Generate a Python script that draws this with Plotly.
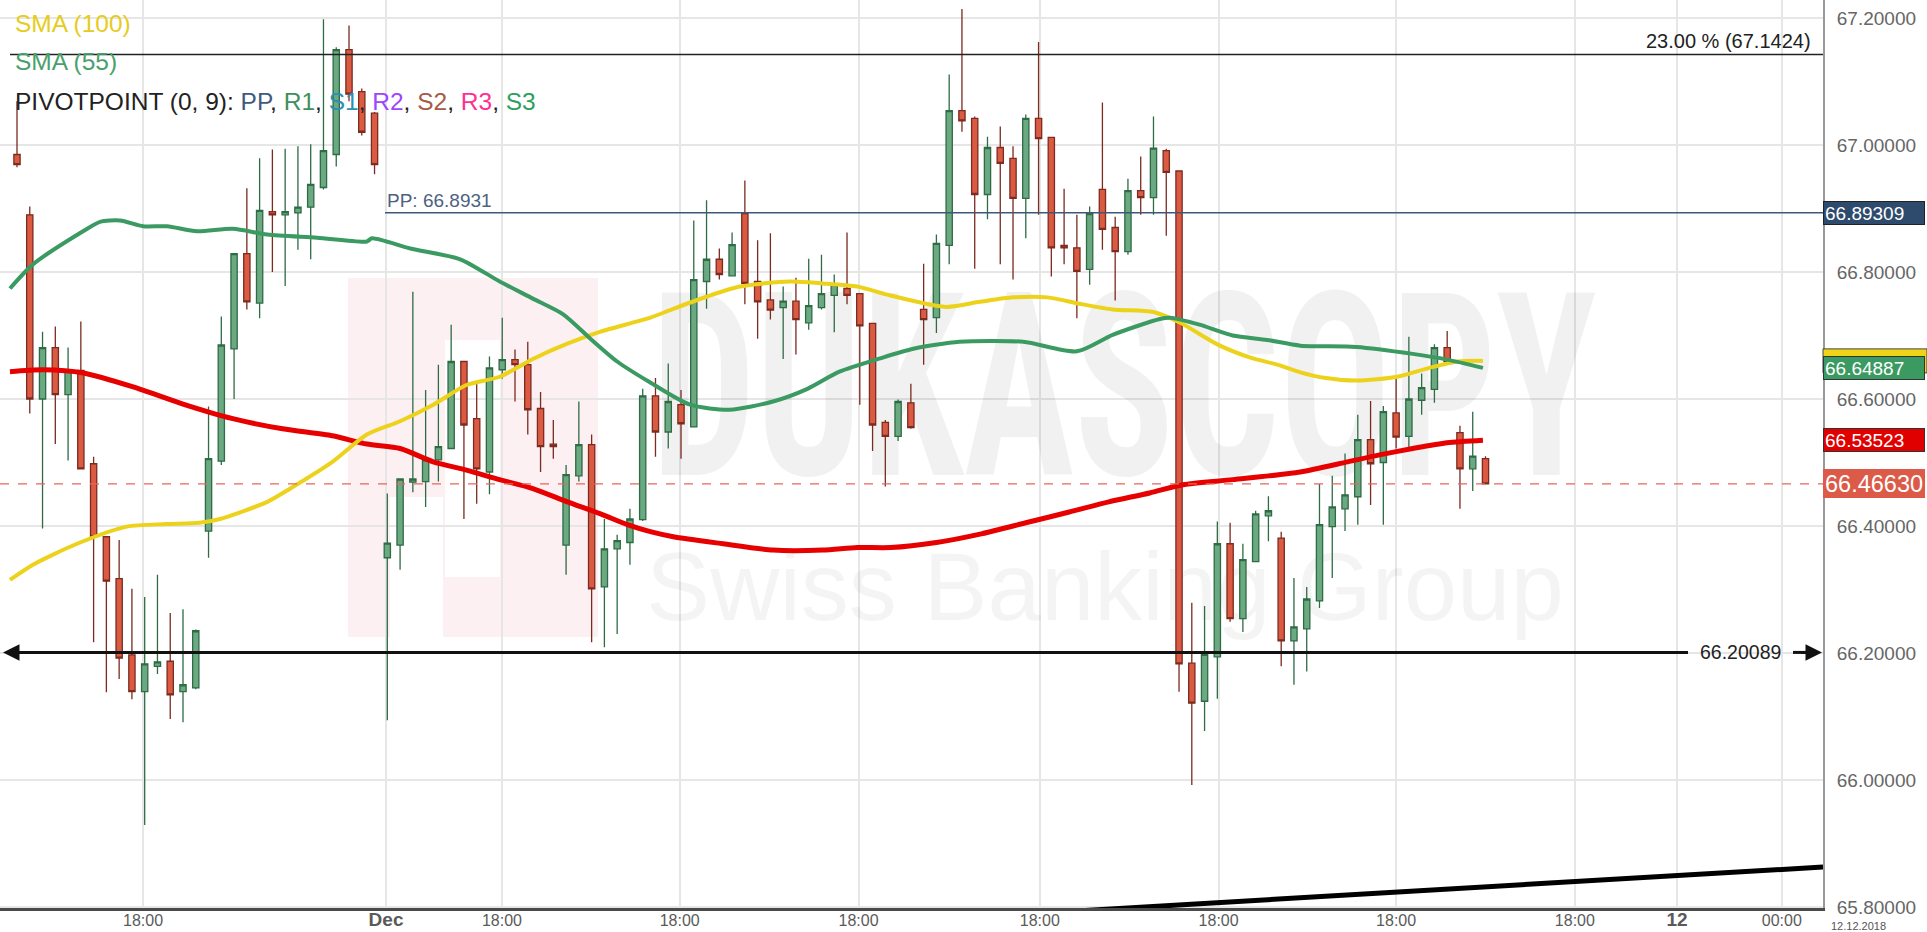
import plotly.graph_objects as go

# ---------------- data ----------------
idx = list(range(116))
opens = [66.985, 66.890, 66.600, 66.681, 66.607, 66.645, 66.498, 66.383, 66.317, 66.197,
         66.139, 66.179, 66.187, 66.139, 66.145, 66.392, 66.502, 66.679, 66.829, 66.751,
         66.895, 66.890, 66.893, 66.902, 66.933, 66.985, 67.150, 67.084, 67.050, 66.350,
         66.370, 66.469, 66.470, 66.504, 66.522, 66.659, 66.569, 66.485, 66.646, 66.662,
         66.654, 66.585, 66.529, 66.370, 66.479, 66.528, 66.304, 66.364, 66.374, 66.410,
         66.605, 66.548, 66.591, 66.556, 66.785, 66.820, 66.794, 66.892, 66.785, 66.756,
         66.744, 66.754, 66.720, 66.744, 66.763, 66.774, 66.766, 66.719, 66.563, 66.541,
         66.594, 66.741, 66.728, 66.842, 67.054, 67.042, 66.922, 66.996, 66.979, 66.916,
         67.042, 67.012, 66.842, 66.838, 66.804, 66.930, 66.870, 66.832, 66.928, 66.917,
         66.991, 66.959, 66.184, 66.124, 66.194, 66.372, 66.254, 66.344, 66.416, 66.381,
         66.219, 66.238, 66.282, 66.399, 66.427, 66.446, 66.536, 66.500, 66.578, 66.541,
         66.598, 66.615, 66.681, 66.547, 66.490, 66.506]
highs = [67.069, 66.903, 66.706, 66.714, 66.681, 66.722, 66.509, 66.383, 66.378, 66.301,
         66.288, 66.323, 66.263, 66.269, 66.237, 66.588, 66.730, 66.829, 66.932, 66.979,
         66.993, 66.994, 66.998, 67.001, 67.198, 67.154, 67.188, 67.089, 67.052, 66.451,
         66.474, 66.769, 66.614, 66.654, 66.717, 66.659, 66.627, 66.667, 66.728, 66.678,
         66.690, 66.611, 66.567, 66.496, 66.596, 66.544, 66.411, 66.386, 66.427, 66.616,
         66.633, 66.656, 66.614, 66.881, 66.913, 66.837, 66.862, 66.944, 66.850, 66.861,
         66.777, 66.791, 66.821, 66.827, 66.796, 66.862, 66.766, 66.719, 66.567, 66.599,
         66.624, 66.813, 66.859, 67.111, 67.214, 67.045, 67.013, 67.029, 66.998, 67.048,
         67.162, 67.012, 66.931, 66.890, 66.903, 67.067, 66.887, 66.947, 66.982, 67.045,
         66.994, 66.959, 66.279, 66.274, 66.407, 66.405, 66.372, 66.424, 66.447, 66.391,
         66.318, 66.304, 66.466, 66.479, 66.514, 66.575, 66.597, 66.589, 66.632, 66.698,
         66.640, 66.686, 66.707, 66.558, 66.580, 66.510]
lows = [66.965, 66.577, 66.396, 66.529, 66.503, 66.490, 66.217, 66.138, 66.159, 66.127,
        65.929, 66.167, 66.096, 66.091, 66.143, 66.350, 66.496, 66.600, 66.741, 66.727,
        66.800, 66.778, 66.835, 66.820, 66.930, 66.966, 67.069, 67.015, 66.954, 66.094,
        66.331, 66.453, 66.430, 66.470, 66.522, 66.411, 66.435, 66.450, 66.632, 66.596,
        66.544, 66.485, 66.506, 66.323, 66.470, 66.217, 66.209, 66.230, 66.339, 66.408,
        66.509, 66.522, 66.506, 66.556, 66.742, 66.788, 66.794, 66.749, 66.695, 66.725,
        66.663, 66.670, 66.709, 66.741, 66.705, 66.749, 66.591, 66.518, 66.462, 66.534,
        66.553, 66.654, 66.704, 66.812, 67.021, 66.805, 66.883, 66.812, 66.788, 66.853,
        66.890, 66.793, 66.812, 66.727, 66.780, 66.835, 66.755, 66.827, 66.890, 66.890,
        66.857, 66.139, 65.992, 66.077, 66.128, 66.249, 66.233, 66.344, 66.376, 66.179,
        66.150, 66.171, 66.271, 66.318, 66.392, 66.402, 66.433, 66.402, 66.522, 66.523,
        66.575, 66.594, 66.659, 66.427, 66.455, 66.466]
closes = [66.969, 66.600, 66.681, 66.607, 66.645, 66.490, 66.383, 66.313, 66.192, 66.139,
          66.183, 66.186, 66.134, 66.150, 66.235, 66.506, 66.685, 66.829, 66.753, 66.897,
          66.890, 66.895, 66.902, 66.938, 66.991, 67.150, 67.080, 67.020, 66.969, 66.373,
          66.474, 66.474, 66.504, 66.525, 66.659, 66.559, 66.490, 66.649, 66.662, 66.654,
          66.583, 66.525, 66.525, 66.481, 66.528, 66.301, 66.364, 66.377, 66.411, 66.605,
          66.548, 66.596, 66.561, 66.788, 66.820, 66.796, 66.843, 66.782, 66.753, 66.740,
          66.754, 66.725, 66.747, 66.766, 66.780, 66.763, 66.715, 66.559, 66.541, 66.596,
          66.555, 66.725, 66.845, 67.054, 67.038, 66.922, 66.996, 66.971, 66.916, 67.042,
          67.010, 66.838, 66.838, 66.801, 66.892, 66.867, 66.832, 66.928, 66.917, 66.995,
          66.957, 66.183, 66.121, 66.198, 66.372, 66.254, 66.347, 66.419, 66.424, 66.219,
          66.241, 66.285, 66.402, 66.430, 66.449, 66.536, 66.498, 66.580, 66.540, 66.600,
          66.618, 66.681, 66.659, 66.490, 66.510, 66.4663]

sma55_x = [-0.55, 1.25, 5.17, 6.5, 8.07, 9.87, 11.75, 14.1, 16.9, 19.6, 23.5, 27.4, 27.8,
           30.8, 34.7, 37.8, 40.4, 42.8, 44.9, 47.0, 49.5, 52.7, 55.8, 59.2, 61.9, 64.4,
           67.6, 70.2, 73.8, 78.8, 83.0, 85.8, 89.5, 90.3, 92.6, 95.2, 97.9, 100.5, 104.9,
           109.3, 112.0, 114.8]
sma55_y = [66.774, 66.812, 66.864, 66.879, 66.881, 66.872, 66.872, 66.864, 66.868, 66.859,
           66.854, 66.848, 66.853, 66.837, 66.820, 66.785, 66.758, 66.733, 66.695, 66.659,
           66.627, 66.591, 66.583, 66.596, 66.616, 66.643, 66.664, 66.679, 66.690, 66.690,
           66.675, 66.701, 66.726, 66.728, 66.717, 66.700, 66.693, 66.684, 66.682, 66.671,
           66.662, 66.649]

sma100_x = [-0.55, 1.25, 4.7, 8.6, 11.7, 14.3, 15.9, 19.6, 21.4, 24.7, 27.4, 30.0, 32.6,
            35.2, 37.8, 40.4, 43.1, 45.7, 49.6, 51.4, 54.0, 56.6, 60.5, 63.1, 65.8, 68.4,
            72.8, 75.4, 78.0, 80.7, 83.2, 85.8, 89.0, 91.1, 94.0, 96.6, 98.7, 100.5, 102.5,
            104.9, 108.1, 110.6, 112.8, 114.8]
sma100_y = [66.315, 66.339, 66.372, 66.399, 66.403, 66.405, 66.411, 66.438, 66.459, 66.501,
            66.544, 66.565, 66.591, 66.622, 66.635, 66.663, 66.687, 66.706, 66.728, 66.742,
            66.761, 66.777, 66.785, 66.782, 66.777, 66.763, 66.745, 66.753, 66.760, 66.760,
            66.750, 66.741, 66.737, 66.720, 66.686, 66.665, 66.654, 66.642, 66.633, 66.629,
            66.635, 66.649, 66.659, 66.660]

sma200_x = [-0.55, 2.0, 5.2, 9.1, 13.0, 16.9, 20.8, 24.7, 27.4, 30.0, 32.6, 35.2, 37.8,
            40.4, 43.1, 45.7, 47.8, 49.6, 51.4, 55.3, 59.2, 63.1, 65.8, 68.4, 72.0, 75.6,
            79.0, 82.4, 85.5, 88.7, 91.3, 95.2, 100.5, 104.2, 106.7, 109.3, 112.0, 114.8]
sma200_y = [66.643, 66.646, 66.641, 66.619, 66.592, 66.569, 66.553, 66.542, 66.529, 66.522,
            66.501, 66.488, 66.473, 66.459, 66.438, 66.419, 66.402, 66.391, 66.383, 66.372,
            66.362, 66.362, 66.366, 66.366, 66.374, 66.388, 66.405, 66.422, 66.438, 66.452,
            66.465, 66.473, 66.485, 66.501, 66.512, 66.522, 66.531, 66.535]

x_tick_pos = [9.87, 28.9, 37.98, 51.9, 65.9, 80.1, 94.1, 108.0, 122.0, 130.0, 138.2]
x_tick_text = ["18:00", "<b><span style='font-size:19px'>Dec</span></b>", "18:00", "18:00",
               "18:00", "18:00", "18:00", "18:00", "18:00",
               "<b><span style='font-size:19px'>12</span></b>", "00:00"]
y_ticks = [65.8, 66.0, 66.2, 66.4, 66.6, 66.8, 67.0, 67.2]
date_label = "12.12.2018"

fib_level = 67.1424
fib_text = "23.00 % (67.1424)"
pp_level = 66.8931
pp_axis = 66.89309
support_level = 66.20089
last_price = 66.4663
sma100_last = 66.66
sma55_last = 66.64887
sma200_last = 66.53523
trend_x = [82.4, 141.43]
trend_y = [65.793, 65.863]

# ---------------- geometry helpers ----------------
W, H = 1927, 932
PW, PH = 1823, 908
XR = [-1.331, 141.43]
YR = [65.7984, 67.2283]
PX_PER_UNIT = PH / (YR[1] - YR[0])


def fx(px):
    return XR[0] + px / PW * (XR[1] - XR[0])


def fy(py):
    return YR[1] - py / PH * (YR[1] - YR[0])


def ppx(px):
    return px / PW


def ppy(py):
    return 1 - py / PH


FONT = "Liberation Sans, Arial, sans-serif"

fig = go.Figure()

# watermark (base subplot, below candles)
fig.add_trace(go.Scatter(
    x=[fx(1124)], y=[fy(405)], mode="text", text=["DUKASCOPY"],
    textfont=dict(family="Liberation Sans Narrow, Roboto Condensed, Liberation Sans", size=185,
                  color="rgba(0,0,0,0.055)", weight="bold"),
    hoverinfo="skip", showlegend=False, xaxis="x", yaxis="y"))
fig.add_trace(go.Scatter(
    x=[fx(1105)], y=[fy(596)], mode="text", text=["Swiss Banking Group"],
    textfont=dict(family=FONT, size=96, color="rgba(0,0,0,0.045)"),
    hoverinfo="skip", showlegend=False, xaxis="x", yaxis="y"))

# candles (overlay subplot)
fig.add_trace(go.Candlestick(
    x=idx, open=opens, high=highs, low=lows, close=closes,
    increasing=dict(fillcolor="#6aa981", line=dict(color="#2f6b45", width=1.3)),
    decreasing=dict(fillcolor="#db5a42", line=dict(color="#7b2b20", width=1.3)),
    whiskerwidth=0, hoverinfo="skip", showlegend=False, xaxis="x2", yaxis="y2"))

for xs, ys, col, w in [(sma200_x, sma200_y, "#e60000", 5),
                       (sma100_x, sma100_y, "#ecd21a", 4),
                       (sma55_x, sma55_y, "#3b9a62", 4)]:
    fig.add_trace(go.Scatter(x=xs, y=ys, mode="lines",
                             line=dict(color=col, width=w, shape="spline", smoothing=0.7),
                             hoverinfo="skip", showlegend=False, xaxis="x2", yaxis="y2"))

fig.add_trace(go.Scatter(x=trend_x, y=trend_y, mode="lines",
                         line=dict(color="#000000", width=5),
                         hoverinfo="skip", showlegend=False, xaxis="x2", yaxis="y2"))

shapes = []
# logo block (pink)
shapes.append(dict(type="rect", xref="paper", yref="paper", x0=ppx(348), x1=ppx(598),
                   y0=ppy(637), y1=ppy(278), fillcolor="#fcf0f2", line=dict(width=0), layer="below"))
shapes.append(dict(type="rect", xref="paper", yref="paper", x0=ppx(445), x1=ppx(500),
                   y0=ppy(577), y1=ppy(340), fillcolor="#ffffff", line=dict(width=0), layer="below"))
shapes.append(dict(type="rect", xref="paper", yref="paper", x0=ppx(390), x1=ppx(443),
                   y0=ppy(637), y1=ppy(497), fillcolor="#ffffff", line=dict(width=0), layer="below"))

# horizontal level lines
shapes.append(dict(type="line", xref="paper", yref="y", x0=ppx(10), x1=1, y0=fib_level, y1=fib_level,
                   line=dict(color="#222222", width=1.5)))
shapes.append(dict(type="line", xref="paper", yref="y", x0=ppx(385), x1=1, y0=pp_level, y1=pp_level,
                   line=dict(color="#3f5878", width=1.5)))
shapes.append(dict(type="line", xref="paper", yref="y", x0=0, x1=1, y0=last_price, y1=last_price,
                   line=dict(color="#e5675c", width=1.2, dash="dash")))
shapes.append(dict(type="line", xref="paper", yref="y", x0=ppx(14), x1=ppx(1688), y0=support_level,
                   y1=support_level, line=dict(color="#111111", width=3)))
shapes.append(dict(type="line", xref="paper", yref="y", x0=ppx(1793), x1=ppx(1812), y0=support_level,
                   y1=support_level, line=dict(color="#111111", width=3)))
# yellow SMA(100) price box, mostly hidden behind the green one
half = 12 / PX_PER_UNIT
shapes.append(dict(type="rect", xref="paper", yref="y", x0=1, x1=1 + 104 / PW,
                   y0=sma100_last - half, y1=sma100_last + half, fillcolor="#f0d418",
                   line=dict(color="#444444", width=1), layer="above"))

annotations = []
# arrowheads on support line
annotations.append(dict(x=fx(3), y=support_level, ax=fx(24), ay=support_level, axref="x", ayref="y",
                        xref="x", yref="y", text="", showarrow=True, arrowhead=2, arrowsize=1.1,
                        arrowwidth=3, arrowcolor="#111111"))
annotations.append(dict(x=fx(1822), y=support_level, ax=fx(1800), ay=support_level, axref="x", ayref="y",
                        xref="x", yref="y", text="", showarrow=True, arrowhead=2, arrowsize=1.1,
                        arrowwidth=3, arrowcolor="#111111"))

# legend texts
LEG = 24.5
annotations.append(dict(xref="paper", yref="paper", x=ppx(13), y=ppy(23), xanchor="left", yanchor="middle",
                        text="SMA (100)", showarrow=False, font=dict(family=FONT, size=LEG, color="#e6cc1c")))
annotations.append(dict(xref="paper", yref="paper", x=ppx(13), y=ppy(62), xanchor="left", yanchor="middle",
                        text="SMA (55)", showarrow=False, font=dict(family=FONT, size=LEG, color="#4aa06c")))
piv = ("PIVOTPOINT (0, 9): <span style='color:#3e5a80'>PP</span>, "
       "<span style='color:#3f8f5e'>R1</span>, <span style='color:#2a8fb5'>S1</span>, "
       "<span style='color:#9d45ff'>R2</span>, <span style='color:#a65a48'>S2</span>, "
       "<span style='color:#ff3092'>R3</span>, <span style='color:#2ea05e'>S3</span>")
annotations.append(dict(xref="paper", yref="paper", x=ppx(13), y=ppy(102), xanchor="left", yanchor="middle",
                        text=piv, showarrow=False, font=dict(family=FONT, size=LEG, color="#222222")))

# level texts
annotations.append(dict(xref="x", yref="y", x=fx(1813), y=fib_level, xanchor="right", yanchor="bottom",
                        text=fib_text, showarrow=False, yshift=1, font=dict(family=FONT, size=20, color="#222222")))
annotations.append(dict(xref="x", yref="y", x=fx(385), y=pp_level, xanchor="left", yanchor="bottom",
                        text="PP: 66.8931", showarrow=False, yshift=0, font=dict(family=FONT, size=19, color="#4d6282")))
annotations.append(dict(xref="x", yref="y", x=fx(1740), y=support_level, xanchor="center", yanchor="middle",
                        text=f"{support_level:.5f}", showarrow=False, font=dict(family=FONT, size=19.5, color="#222222")))


def side_label(val, text, bg, fg, size=19, h=20, border=None):
    annotations.append(dict(xref="paper", yref="y", x=1, y=val, xanchor="left", yanchor="middle",
                            text=text, showarrow=False, align="left", width=98, height=h,
                            bgcolor=bg, bordercolor=border or bg, borderwidth=1, borderpad=1,
                            font=dict(family=FONT, size=size, color=fg)))


side_label(sma55_last, f"{sma55_last:.5f}", "#3b9a62", "#ffffff", border="#333333")
side_label(sma200_last, f"{sma200_last:.5f}", "#e00000", "#ffffff", border="#333333")
side_label(pp_axis, f"{pp_axis:.5f}", "#2e4a6c", "#ffffff", border="#222222")
side_label(last_price, f"{last_price:.5f}", "#dc5a48", "#ffffff", size=23.5, h=25)

annotations.append(dict(xref="paper", yref="paper", x=ppx(1830), y=ppy(919.5), xanchor="left", yanchor="top",
                        text=date_label, showarrow=False, borderpad=0,
                        font=dict(family=FONT, size=11, color="#555555")))

fig.update_layout(
    width=W, height=H,
    margin=dict(l=0, r=W - PW, t=0, b=H - PH, pad=0, autoexpand=False),
    paper_bgcolor="#ffffff", plot_bgcolor="#ffffff",
    showlegend=False, boxgap=0.3,
    shapes=shapes, annotations=annotations,
    xaxis=dict(range=XR, tickvals=x_tick_pos, ticktext=x_tick_text, showgrid=True,
               gridcolor="#e6e6e6", gridwidth=1.5, showline=True, linecolor="#4a4a4a", linewidth=3,
               ticks="", ticklabelstandoff=-4, zeroline=False, automargin=False,
               tickfont=dict(family=FONT, size=16, color="#5a5a5a"), rangeslider=dict(visible=False)),
    xaxis2=dict(range=XR, overlaying="x", visible=False, rangeslider=dict(visible=False)),
    yaxis=dict(range=YR, side="right", tickvals=y_ticks, ticktext=[f"{v:.5f}" for v in y_ticks],
               showgrid=True, gridcolor="#e6e6e6", gridwidth=1.5, showline=True, linecolor="#999999",
               linewidth=2, ticks="outside", ticklen=8, tickcolor="rgba(0,0,0,0)", zeroline=False,
               automargin=False, tickfont=dict(family=FONT, size=19, color="#666666")),
    yaxis2=dict(range=YR, overlaying="y", visible=False),
)

# stretch the condensed watermark word vertically, as in the original logo lettering
post = """
document.querySelectorAll('text').forEach(function(t){
  if (t.textContent === 'DUKASCOPY') {
    t.style.transformBox = 'fill-box';
    t.style.transformOrigin = 'center';
    t.style.transform = 'scale(1, 1.38)';
  }
});
"""

fig.write_html("out.html", config={"displayModeBar": False}, post_script=post)
